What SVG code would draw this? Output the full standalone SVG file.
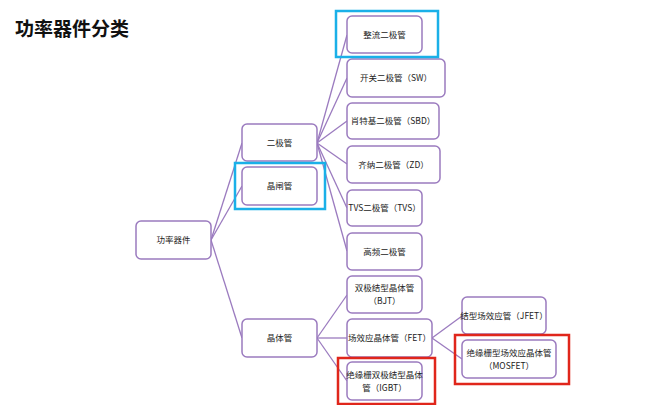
<svg xmlns="http://www.w3.org/2000/svg" width="660" height="405" viewBox="0 0 660 405">
<style>
.n{fill:#fff;stroke:#9b7bbf;stroke-width:1.5}
.t{font-family:"Noto Sans CJK SC",sans-serif;font-size:8.5px;fill:#222;text-anchor:middle}
.c line{stroke:#9b7bbf;stroke-width:1.3}
.b{fill:none;stroke:#1ab0e8;stroke-width:2.5}
.r{fill:none;stroke:#e0261b;stroke-width:2.5}
</style>
<rect width="660" height="405" fill="#fff"/>
<text x="15" y="36" font-family="Noto Sans CJK SC,sans-serif" font-size="19" font-weight="bold" fill="#111">功率器件分类</text>
<g class="c">
<line x1="211" y1="240" x2="242" y2="143"/><line x1="211" y1="240" x2="242" y2="186"/><line x1="211" y1="240" x2="242" y2="338"/>
<line x1="317" y1="143" x2="347" y2="35"/><line x1="317" y1="143" x2="347" y2="78"/><line x1="317" y1="143" x2="347" y2="121"/>
<line x1="317" y1="143" x2="347" y2="164"/><line x1="317" y1="143" x2="347" y2="208"/><line x1="317" y1="143" x2="347" y2="251"/>
<line x1="317" y1="338" x2="347" y2="295"/><line x1="317" y1="338" x2="347" y2="338"/><line x1="317" y1="338" x2="347" y2="381"/>
<line x1="432" y1="338" x2="462" y2="316"/><line x1="432" y1="338" x2="462" y2="359"/>
</g>
<g id="root"><rect class="n" x="136" y="221" width="75" height="38" rx="5"/><text class="t" x="173.5" y="243">功率器件</text></g>
<g id="diode"><rect class="n" x="242" y="124" width="75" height="37" rx="5"/><text class="t" x="279.5" y="146">二极管</text></g>
<g id="thyristor"><rect class="n" x="242" y="167" width="75" height="38" rx="5"/><text class="t" x="279.5" y="189">晶闸管</text></g>
<g id="transistor"><rect class="n" x="242" y="319" width="75" height="38" rx="5"/><text class="t" x="279.5" y="341">晶体管</text></g>
<g id="d1"><rect class="n" x="347" y="16" width="75" height="37" rx="5"/><text class="t" x="384.5" y="38">整流二极管</text></g>
<g id="d2"><rect class="n" x="347" y="59" width="98" height="38" rx="5"/><text class="t" x="396" y="81">开关二极管（SW）</text></g>
<g id="d3"><rect class="n" x="347" y="103" width="92" height="36" rx="5"/><text class="t" x="393" y="124">肖特基二极管（SBD）</text></g>
<g id="d4"><rect class="n" x="347" y="146" width="93" height="37" rx="5"/><text class="t" x="393.5" y="168">齐纳二极管（ZD）</text></g>
<g id="d5"><rect class="n" x="347" y="190" width="75" height="36" rx="5"/><text class="t" x="384.5" y="211">TVS二极管（TVS）</text></g>
<g id="d6"><rect class="n" x="347" y="233" width="75" height="37" rx="5"/><text class="t" x="384.5" y="255">高频二极管</text></g>
<g id="bjt"><rect class="n" x="347" y="276" width="75" height="37" rx="5"/><text class="t" x="384.5" y="291">双极结型晶体管</text><text class="t" x="384.5" y="304">（BJT）</text></g>
<g id="fet"><rect class="n" x="347" y="319" width="85" height="38" rx="5"/><text class="t" x="389.5" y="341">场效应晶体管（FET）</text></g>
<g id="igbt"><rect class="n" x="347" y="362" width="75" height="38" rx="5"/><text class="t" x="384.5" y="378">绝缘栅双极结型晶体</text><text class="t" x="384.5" y="391">管（IGBT）</text></g>
<g id="jfet"><rect class="n" x="462" y="297" width="84" height="37" rx="5"/><text class="t" x="504" y="319">结型场效应管（JFET）</text></g>
<g id="mosfet"><rect class="n" x="462" y="340" width="94" height="38" rx="5"/><text class="t" x="509" y="356">绝缘栅型场效应晶体管</text><text class="t" x="509" y="369">（MOSFET）</text></g>
<g id="highlights">
<rect class="b" x="336" y="11" width="102" height="46"/>
<rect class="b" x="235" y="163" width="90" height="46"/>
<rect class="r" x="338" y="358" width="97" height="46"/>
<rect class="r" x="455" y="335" width="114" height="49"/>
</g>
</svg>
